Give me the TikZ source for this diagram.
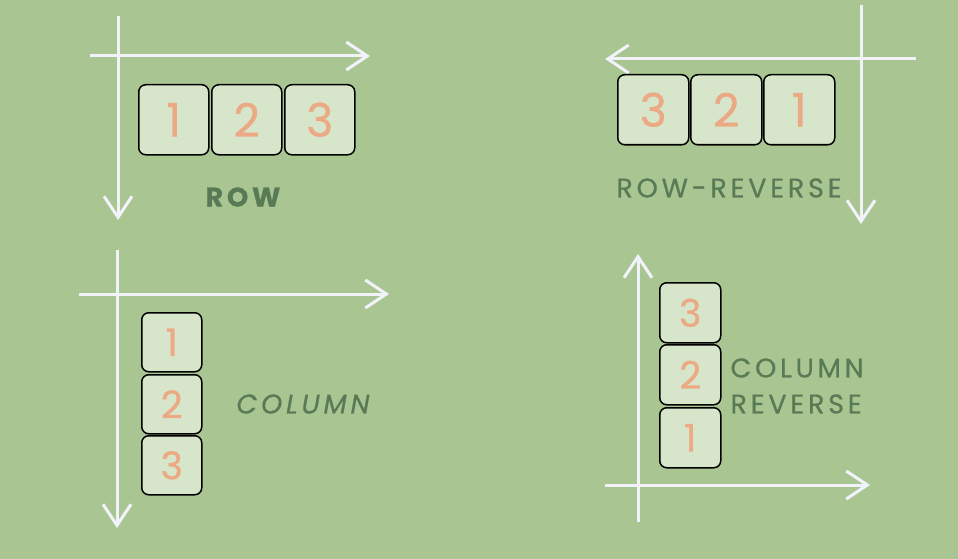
\documentclass[tikz,border=0pt]{standalone}
\usepackage{fontspec}
\setmainfont{Poppins}
\newfontfamily\digitfont[FakeBold=0.8]{Poppins}
\newfontfamily\lblfont[FakeBold=0.6,LetterSpace=14]{Poppins}
\usetikzlibrary{arrows.meta}
\definecolor{bg}{HTML}{A9C692}
\definecolor{boxfill}{HTML}{D7E5CB}
\definecolor{digit}{HTML}{EBA984}
\definecolor{lbl}{HTML}{587A55}
\definecolor{axis}{HTML}{F2F2FA}
\tikzset{
  axisline/.style={draw=axis, line width=3pt, -{Straight Barb[length=21pt,width=28pt,line width=3pt]}},
  itembox/.style={draw=black, line width=1.5pt, fill=boxfill, rounded corners=7pt,
    text=digit, font=\digitfont\fontsize{46}{46}\selectfont, inner sep=0pt, anchor=north west},
  smallbox/.style={itembox, font=\digitfont\fontsize{38}{38}\selectfont},
  lbltext/.style={text=lbl, font=\lblfont\fontsize{27}{29}\selectfont, align=center},
}
\begin{document}
\begin{tikzpicture}[x=1pt,y=-1pt]
\fill[bg] (0,0) rectangle (958,559);
\useasboundingbox (0,0) rectangle (958,559);
% Panel ROW
\coordinate (r1v0) at (118,16); \coordinate (r1v1) at (118,220);
\coordinate (r1h0) at (90,56);  \coordinate (r1h1) at (370,56);
\draw[axisline] (r1v0) -- (r1v1);
\draw[axisline] (r1h0) -- (r1h1);
\node[itembox, minimum width=70pt, minimum height=70pt] (a1) at (138,84) {1};
\node[itembox, minimum width=70pt, minimum height=70pt] (a2) at (211,84) {2};
\node[itembox, minimum width=70pt, minimum height=70pt] (a3) at (284,84) {3};
\node[lbltext, font=\lblfont\fontsize{27}{29}\selectfont\bfseries] (l1) at (243,197) {ROW};
% Panel ROW-REVERSE
\coordinate (r2v0) at (861,5); \coordinate (r2v1) at (861,224);
\coordinate (r2h0) at (916,59); \coordinate (r2h1) at (605,59);
\draw[axisline] (r2v0) -- (r2v1);
\draw[axisline] (r2h0) -- (r2h1);
\node[itembox, minimum width=71pt, minimum height=70pt] (b3) at (617,74) {3};
\node[itembox, minimum width=71pt, minimum height=70pt] (b2) at (690,74) {2};
\node[itembox, minimum width=71pt, minimum height=70pt] (b1) at (763,74) {1};
\node[lbltext] (l2) at (729,188) {ROW-REVERSE};
% Panel COLUMN
\coordinate (c1v0) at (117,250); \coordinate (c1v1) at (117,528);
\coordinate (c1h0) at (79,294); \coordinate (c1h1) at (389,294);
\draw[axisline] (c1v0) -- (c1v1);
\draw[axisline] (c1h0) -- (c1h1);
\node[smallbox, minimum width=60pt, minimum height=59pt] (d1) at (141,312) {1};
\node[smallbox, minimum width=60pt, minimum height=59pt] (d2) at (141,374) {2};
\node[smallbox, minimum width=60pt, minimum height=59pt] (d3) at (141,435) {3};
\node[lbltext, font=\lblfont\fontsize{27}{29}\selectfont\itshape] (l3) at (303,404) {COLUMN};
% Panel COLUMN REVERSE
\coordinate (c2v0) at (638,522); \coordinate (c2v1) at (638,254);
\coordinate (c2h0) at (605,485); \coordinate (c2h1) at (870,485);
\draw[axisline] (c2v0) -- (c2v1);
\draw[axisline] (c2h0) -- (c2h1);
\node[smallbox, minimum width=61pt, minimum height=60pt] (e3) at (659,282) {3};
\node[smallbox, minimum width=61pt, minimum height=60pt] (e2) at (659,344) {2};
\node[smallbox, minimum width=61pt, minimum height=60pt] (e1) at (659,407) {1};
\node[lbltext, anchor=west] (l4a) at (727,368) {COLUMN};
\node[lbltext, anchor=west] (l4b) at (727,404) {REVERSE};
\end{tikzpicture}
\end{document}
